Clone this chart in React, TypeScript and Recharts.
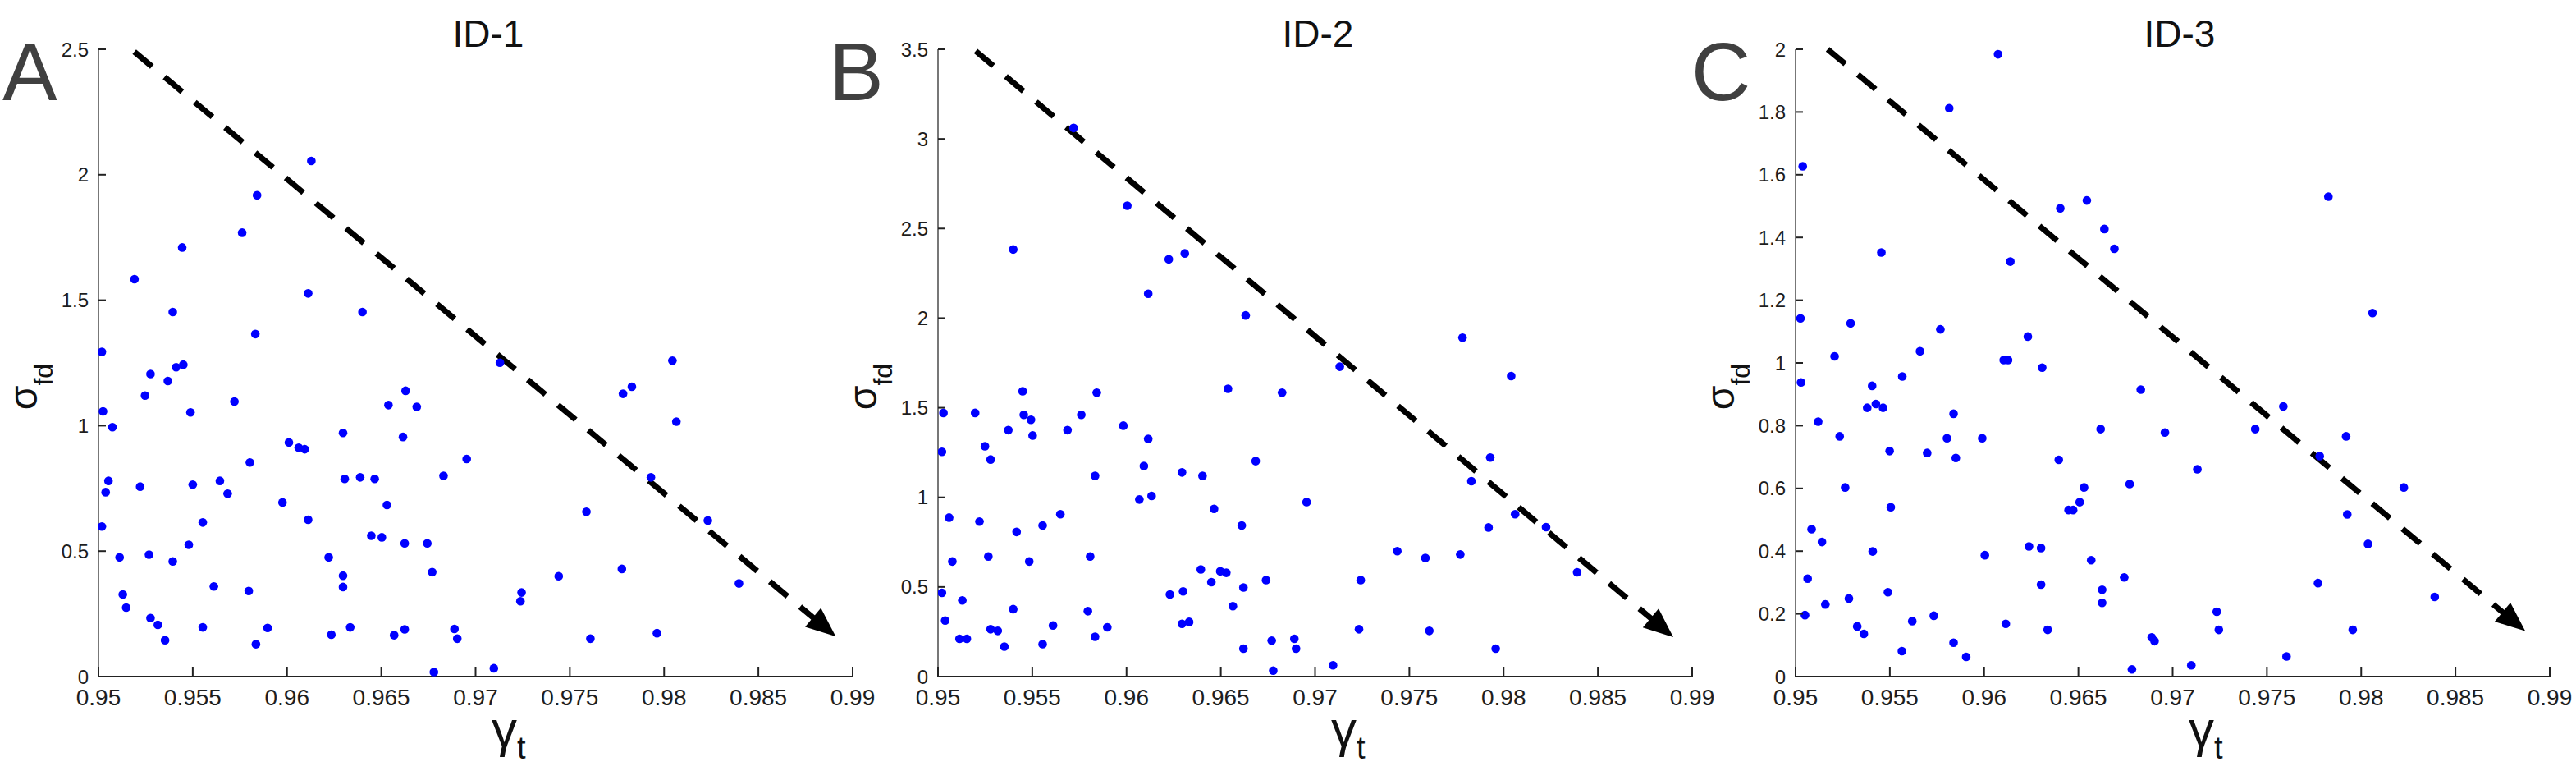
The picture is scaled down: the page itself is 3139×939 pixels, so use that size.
import React from 'react';
import { ScatterChart, Scatter, XAxis, YAxis, ReferenceLine } from 'recharts';

// ---------- tick values ----------
const xTicks = [0.95, 0.955, 0.96, 0.965, 0.97, 0.975, 0.98, 0.985, 0.99];
const yTicksA = [0, 0.5, 1, 1.5, 2, 2.5];
const yTicksB = [0, 0.5, 1, 1.5, 2, 2.5, 3, 3.5];
const yTicksC = [0, 0.2, 0.4, 0.6, 0.8, 1, 1.2, 1.4, 1.6, 1.8, 2];

// ---------- panel titles / letters ----------
const panelTitles = ['ID-1', 'ID-2', 'ID-3'];
const panelLetters = ['A', 'B', 'C'];

// ---------- panel A (ID-1) ----------
const gammaA = [
  0.96129, 0.95841, 0.95762, 0.95444, 0.95191, 0.96112, 0.95394, 0.9640, 0.95832, 0.95018,
  0.98044, 0.97129, 0.9545, 0.95412, 0.95276, 0.95368, 0.95247, 0.97829, 0.97782, 0.96629,
  0.95721, 0.96538, 0.96688, 0.95488, 0.95024, 0.95074, 0.98065, 0.96297, 0.96615, 0.9601,
  0.96062, 0.96094, 0.96953, 0.95803, 0.95053, 0.95644, 0.95038, 0.95221, 0.95685, 0.955,
  0.96306, 0.96388, 0.96465, 0.9683, 0.9793, 0.95976, 0.9653, 0.97588, 0.96112, 0.95553,
  0.95018, 0.98232, 0.96447, 0.96503, 0.96624, 0.96744, 0.95479, 0.95112, 0.95268, 0.96221,
  0.95394, 0.97776, 0.9677, 0.96297, 0.97441, 0.96297, 0.95612, 0.95797, 0.98397, 0.97244,
  0.97238, 0.95129, 0.95147, 0.95276, 0.95315, 0.95353, 0.95553, 0.95897, 0.95835, 0.96235,
  0.96335, 0.96568, 0.96624, 0.96888, 0.96903, 0.97609, 0.97962, 0.96779, 0.97097,
];
const sigmaA = [
  2.055, 1.918, 1.769, 1.71, 1.584, 1.527, 1.453, 1.453, 1.365, 1.294,
  1.259, 1.251, 1.243, 1.233, 1.206, 1.178, 1.12, 1.155, 1.127, 1.139,
  1.096, 1.082, 1.075, 1.053, 1.057, 0.994, 1.016, 0.971, 0.955, 0.933,
  0.912, 0.906, 0.867, 0.853, 0.78, 0.78, 0.735, 0.757, 0.729, 0.765,
  0.788, 0.794, 0.788, 0.8, 0.794, 0.694, 0.684, 0.657, 0.625, 0.614,
  0.598, 0.622, 0.561, 0.555, 0.531, 0.531, 0.525, 0.475, 0.486, 0.475,
  0.459, 0.429, 0.416, 0.402, 0.4, 0.357, 0.359, 0.341, 0.371, 0.335,
  0.3, 0.327, 0.275, 0.233, 0.206, 0.145, 0.196, 0.194, 0.129, 0.167,
  0.196, 0.165, 0.188, 0.19, 0.151, 0.151, 0.173, 0.018, 0.033,
];

// ---------- panel B (ID-2) ----------
const gammaB = [
  0.95719, 0.96004, 0.95399, 0.96309, 0.96224, 0.96115, 0.96632, 0.97782, 0.97131, 0.9804,
  0.95449, 0.96538, 0.95842, 0.96825, 0.95029, 0.95197, 0.95455, 0.9576, 0.95493, 0.95502,
  0.95373, 0.95687, 0.95983, 0.96115, 0.95021, 0.95249, 0.95279, 0.96685, 0.97929, 0.96092,
  0.96294, 0.96403, 0.95833, 0.97829, 0.96133, 0.96068, 0.96955, 0.96464, 0.98061, 0.95059,
  0.95649, 0.9522, 0.96611, 0.95555, 0.9792, 0.98225, 0.95417, 0.95076, 0.95484, 0.95267,
  0.95807, 0.97436, 0.97585, 0.9777, 0.96394, 0.96497, 0.96529, 0.9645, 0.9674, 0.97242,
  0.9839, 0.9662, 0.963, 0.95021, 0.9623, 0.95129, 0.96564, 0.95399, 0.95795, 0.95038,
  0.9561, 0.95898, 0.95279, 0.95317, 0.96294, 0.96332, 0.97233, 0.97606, 0.95114, 0.95153,
  0.95833, 0.95352, 0.95555, 0.9677, 0.9689, 0.9662, 0.96899, 0.97958, 0.96778, 0.97095,
];
const sigmaB = [
  3.061, 2.627, 2.383, 2.361, 2.328, 2.136, 2.015, 1.891, 1.729, 1.677,
  1.592, 1.606, 1.584, 1.584, 1.471, 1.471, 1.46, 1.46, 1.433, 1.345,
  1.375, 1.375, 1.4, 1.326, 1.254, 1.285, 1.211, 1.202, 1.222, 1.175,
  1.139, 1.12, 1.12, 1.09, 1.008, 0.988, 0.974, 0.936, 0.906, 0.887,
  0.906, 0.865, 0.843, 0.843, 0.832, 0.834, 0.807, 0.642, 0.642, 0.67,
  0.67, 0.7, 0.662, 0.681, 0.598, 0.587, 0.579, 0.527, 0.538, 0.538,
  0.582, 0.497, 0.475, 0.467, 0.458, 0.425, 0.393, 0.376, 0.365, 0.313,
  0.285, 0.275, 0.264, 0.255, 0.294, 0.305, 0.264, 0.255, 0.211, 0.211,
  0.222, 0.167, 0.181, 0.2, 0.211, 0.156, 0.156, 0.156, 0.033, 0.063,
];

// ---------- panel C (ID-3) ----------
const gammaC = [
  0.96074, 0.95815, 0.95038, 0.97826, 0.96545, 0.96404, 0.96638, 0.96691, 0.95455, 0.96139,
  0.95026, 0.95292, 0.9806, 0.95768, 0.96232, 0.9566, 0.95207, 0.96104, 0.96127, 0.96308,
  0.95029, 0.95566, 0.95406, 0.96831, 0.9538, 0.95426, 0.95464, 0.95838, 0.97587, 0.9512,
  0.96618, 0.97438, 0.96959, 0.95234, 0.9792, 0.9599, 0.95803, 0.95499, 0.95698, 0.9585,
  0.9778, 0.96396, 0.97131, 0.95263, 0.9653, 0.96772, 0.98226, 0.95505, 0.96507, 0.96448,
  0.96472, 0.97926, 0.95085, 0.9514, 0.96238, 0.96302, 0.98036, 0.95409, 0.96004, 0.96568,
  0.95064, 0.96743, 0.97771, 0.96302, 0.96626, 0.9549, 0.95283, 0.9839, 0.95158, 0.96626,
  0.97234, 0.9505, 0.95733, 0.95619, 0.96115, 0.95327, 0.95362, 0.96337, 0.97245, 0.97955,
  0.95838, 0.96889, 0.96904, 0.95564, 0.95905, 0.97604, 0.96784, 0.97099,
];
const sigmaC = [
  1.984, 1.812, 1.627, 1.53, 1.518, 1.493, 1.427, 1.364, 1.352, 1.323,
  1.142, 1.126, 1.159, 1.107, 1.084, 1.037, 1.021, 1.009, 1.009, 0.985,
  0.938, 0.957, 0.927, 0.915, 0.857, 0.869, 0.857, 0.838, 0.861, 0.813,
  0.789, 0.789, 0.778, 0.766, 0.766, 0.76, 0.76, 0.719, 0.713, 0.697,
  0.703, 0.691, 0.661, 0.603, 0.603, 0.614, 0.603, 0.54, 0.556, 0.531,
  0.531, 0.517, 0.47, 0.429, 0.415, 0.41, 0.423, 0.399, 0.387, 0.371,
  0.312, 0.316, 0.298, 0.293, 0.277, 0.269, 0.249, 0.254, 0.23, 0.235,
  0.207, 0.196, 0.194, 0.177, 0.168, 0.16, 0.136, 0.149, 0.149, 0.149,
  0.108, 0.125, 0.113, 0.081, 0.063, 0.064, 0.023, 0.036,
];

// ---------- dashed trend arrows (data coordinates: start, end) ----------
const arrowA = [[0.9519, 2.49], [0.9891, 0.16]];
const arrowB = [[0.9520, 3.49], [0.9890, 0.22]];
const arrowC = [[0.9517, 2.0], [0.9887, 0.145]];

const FONT = '"Liberation Sans", Arial, Helvetica, sans-serif';
const fmt = (v: number) => String(parseFloat(Number(v).toFixed(3)));

const W = 3139;
const H = 939;
const CHART_W = 1071;
const Y_AXIS_W = 120;
const PLOT_W = 919;
const TOP = 60;
const BOTTOM = 824;
const X_AXIS_H = 60;

const XTick = (props: any) => {
  const { x, y, payload } = props;
  return (
    <g>
      <line x1={x} x2={x} y1={y - 12} y2={y - 24} stroke="#222" strokeWidth={2} />
      <text x={x} y={y + 23} textAnchor="middle" fontSize={28} fill="#1e1e1e" fontFamily={FONT}>
        {fmt(payload.value)}
      </text>
    </g>
  );
};

const YTick = (props: any) => {
  const { x, y, payload } = props;
  return (
    <g>
      <line x1={x + 12} x2={x + 21} y1={y} y2={y} stroke="#222" strokeWidth={2} />
      <text x={x} y={y} dy="0.36em" textAnchor="end" fontSize={24} fill="#1e1e1e" fontFamily={FONT}>
        {fmt(payload.value)}
      </text>
    </g>
  );
};

const ArrowShape = (p: any) => {
  const { x1, y1, x2, y2 } = p;
  const dx = x2 - x1;
  const dy = y2 - y1;
  const len = Math.hypot(dx, dy) || 1;
  const ux = dx / len;
  const uy = dy / len;
  const head = 36;
  const half = 15;
  const bx = x2 - ux * head;
  const by = y2 - uy * head;
  return (
    <g>
      <line x1={x1} y1={y1} x2={bx + ux * 4} y2={by + uy * 4} stroke="#000" strokeWidth={7} strokeDasharray="28 20" />
      <polygon
        points={`${x2},${y2} ${bx - uy * half},${by + ux * half} ${bx + uy * half},${by - ux * half}`}
        fill="#000"
      />
    </g>
  );
};

const Dot = (p: any) => <circle cx={p.cx} cy={p.cy} r={5.3} fill="#0000ff" />;

type PanelProps = {
  left: number;
  gamma: number[];
  sigma: number[];
  yTicks: number[];
  yMax: number;
  arrow: number[][];
};

const Panel = ({ left, gamma, sigma, yTicks, yMax, arrow }: PanelProps) => {
  const data = gamma.map((g, i) => ({ g, s: sigma[i] }));
  return (
    <div style={{ position: 'absolute', left, top: 0 }}>
      <ScatterChart
        width={CHART_W}
        height={H}
        margin={{ top: TOP, right: CHART_W - Y_AXIS_W - PLOT_W, bottom: H - BOTTOM - X_AXIS_H, left: 0 }}
      >
        <XAxis
          type="number"
          dataKey="g"
          domain={[0.95, 0.99]}
          ticks={xTicks}
          allowDataOverflow
          height={X_AXIS_H}
          tickLine={false}
          tickSize={0}
          tickMargin={12}
          axisLine={{ stroke: '#222', strokeWidth: 2 }}
          tick={<XTick />}
          interval={0}
        />
        <YAxis
          type="number"
          dataKey="s"
          domain={[0, yMax]}
          ticks={yTicks}
          allowDataOverflow
          width={Y_AXIS_W}
          tickLine={false}
          tickSize={0}
          tickMargin={12}
          axisLine={{ stroke: '#777', strokeWidth: 2 }}
          tick={<YTick />}
          interval={0}
        />
        <Scatter data={data} isAnimationActive={false} shape={<Dot />} />
        <ReferenceLine
          segment={[
            { x: arrow[0][0], y: arrow[0][1] },
            { x: arrow[1][0], y: arrow[1][1] },
          ]}
          ifOverflow="visible"
          shape={ArrowShape}
        />
      </ScatterChart>
    </div>
  );
};

const panelLefts = [0, 1023, 2068];
const letterX = [3, 1010, 2061];
const titleX = [595, 1606, 2656];

export default function App() {
  return (
    <div
      style={{
        position: 'absolute',
        left: 0,
        top: 0,
        width: W,
        height: H,
        overflow: 'hidden',
        background: '#fff',
      }}
    >
      <Panel left={panelLefts[0]} gamma={gammaA} sigma={sigmaA} yTicks={yTicksA} yMax={2.5} arrow={arrowA} />
      <Panel left={panelLefts[1]} gamma={gammaB} sigma={sigmaB} yTicks={yTicksB} yMax={3.5} arrow={arrowB} />
      <Panel left={panelLefts[2]} gamma={gammaC} sigma={sigmaC} yTicks={yTicksC} yMax={2} arrow={arrowC} />
      <svg
        width={W}
        height={H}
        style={{ position: 'absolute', left: 0, top: 0, pointerEvents: 'none' }}
      >
        {panelLetters.map((t, i) => (
          <text key={t} x={letterX[i]} y={122} fontSize={100} fill="#404040" fontFamily={FONT}>
            {t}
          </text>
        ))}
        {panelTitles.map((t, i) => (
          <text key={t} x={titleX[i]} y={57} fontSize={46} textAnchor="middle" fill="#111" fontFamily={FONT}>
            {t}
          </text>
        ))}
        {panelLefts.map((pl, i) => (
          <g key={'lab' + i}>
            <text
              transform={`translate(${pl + 45}, 471) rotate(-90)`}
              textAnchor="middle"
              fill="#111"
              fontFamily={FONT}
            >
              <tspan fontSize={48}>σ</tspan>
              <tspan fontSize={32} dy={19}>fd</tspan>
            </text>
            <text x={pl + 599} y={909} fill="#111" fontFamily={FONT}>
              <tspan fontSize={62}>γ</tspan>
              <tspan fontSize={38} dy={15}>t</tspan>
            </text>
          </g>
        ))}
      </svg>
    </div>
  );
}
